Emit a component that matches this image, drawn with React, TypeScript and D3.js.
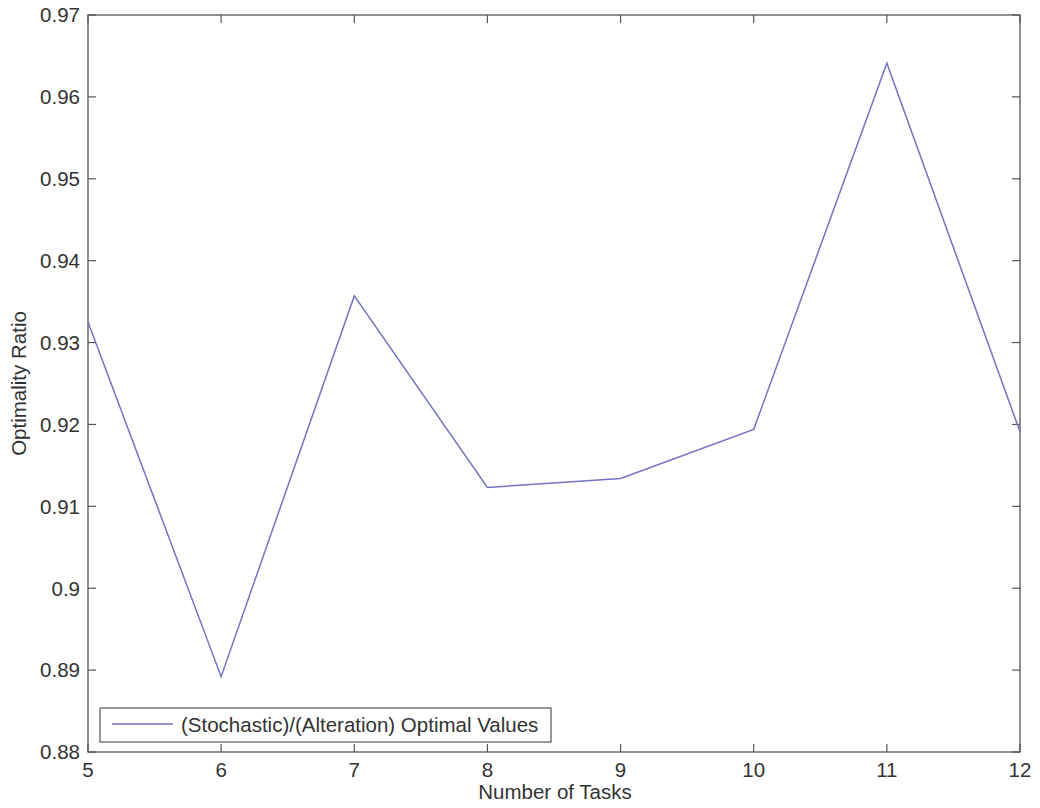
import React from "react";
import * as d3 from "d3";

const tasks = [5, 6, 7, 8, 9, 10, 11, 12];
const ratios = [0.9325, 0.8892, 0.9357, 0.9123, 0.9134, 0.9194, 0.9641, 0.9191];
const yTicks = [0.88, 0.89, 0.9, 0.91, 0.92, 0.93, 0.94, 0.95, 0.96, 0.97];
const xTicks = [5, 6, 7, 8, 9, 10, 11, 12];
const legendLabel = "(Stochastic)/(Alteration) Optimal Values";

export default function App() {
  const W = 1040, H = 808;
  const left = 88, right = 1020, top = 15, bottom = 752;
  const x = d3.scaleLinear().domain([5, 12]).range([left, right]);
  const y = d3.scaleLinear().domain([0.88, 0.97]).range([bottom, top]);
  const line = d3.line<number>().x((_, i) => x(tasks[i])).y((d) => y(d));
  const axisColor = "#555";
  const font = "Liberation Sans, Arial, Helvetica, sans-serif";
  const fs = 20.5;
  const tl = 8;
  const fmt = (v: number) => String(+v.toFixed(2));
  return (
    <svg width={W} height={H} style={{ position: "absolute", left: 0, top: 0, background: "#fff" }}>
      <rect x={left} y={top} width={right - left} height={bottom - top} fill="none" stroke={axisColor} strokeWidth={1.3} />
      {yTicks.map((t) => (
        <g key={"y" + t}>
          <line x1={left} x2={left + tl} y1={y(t)} y2={y(t)} stroke={axisColor} strokeWidth={1.2} />
          <line x1={right} x2={right - tl} y1={y(t)} y2={y(t)} stroke={axisColor} strokeWidth={1.2} />
          <text x={left - 8} y={y(t)} dy="0.36em" textAnchor="end" fontFamily={font} fontSize={fs} fill="#333">
            {fmt(t)}
          </text>
        </g>
      ))}
      {xTicks.map((t) => (
        <g key={"x" + t}>
          <line x1={x(t)} x2={x(t)} y1={bottom} y2={bottom - tl} stroke={axisColor} strokeWidth={1.2} />
          <line x1={x(t)} x2={x(t)} y1={top} y2={top + tl} stroke={axisColor} strokeWidth={1.2} />
          <text x={x(t)} y={bottom + 25} textAnchor="middle" fontFamily={font} fontSize={fs} fill="#333">
            {t}
          </text>
        </g>
      ))}
      <path d={line(ratios) || ""} fill="none" stroke="#7373c2" strokeWidth={1.5} />
      <text x={555} y={799} textAnchor="middle" fontFamily={font} fontSize={fs} fill="#333">
        Number of Tasks
      </text>
      <text transform={`translate(26,${(top + bottom) / 2}) rotate(-90)`} textAnchor="middle" fontFamily={font} fontSize={fs} fill="#333">
        Optimality Ratio
      </text>
      <g>
        <rect x={100} y={708} width={451} height={34} fill="#fff" stroke={axisColor} strokeWidth={1.2} />
        <line x1={112} x2={173} y1={724} y2={724} stroke="#7373c2" strokeWidth={1.5} />
        <text x={181} y={732} fontFamily={font} fontSize={fs} fill="#333">
          {legendLabel}
        </text>
      </g>
    </svg>
  );
}
